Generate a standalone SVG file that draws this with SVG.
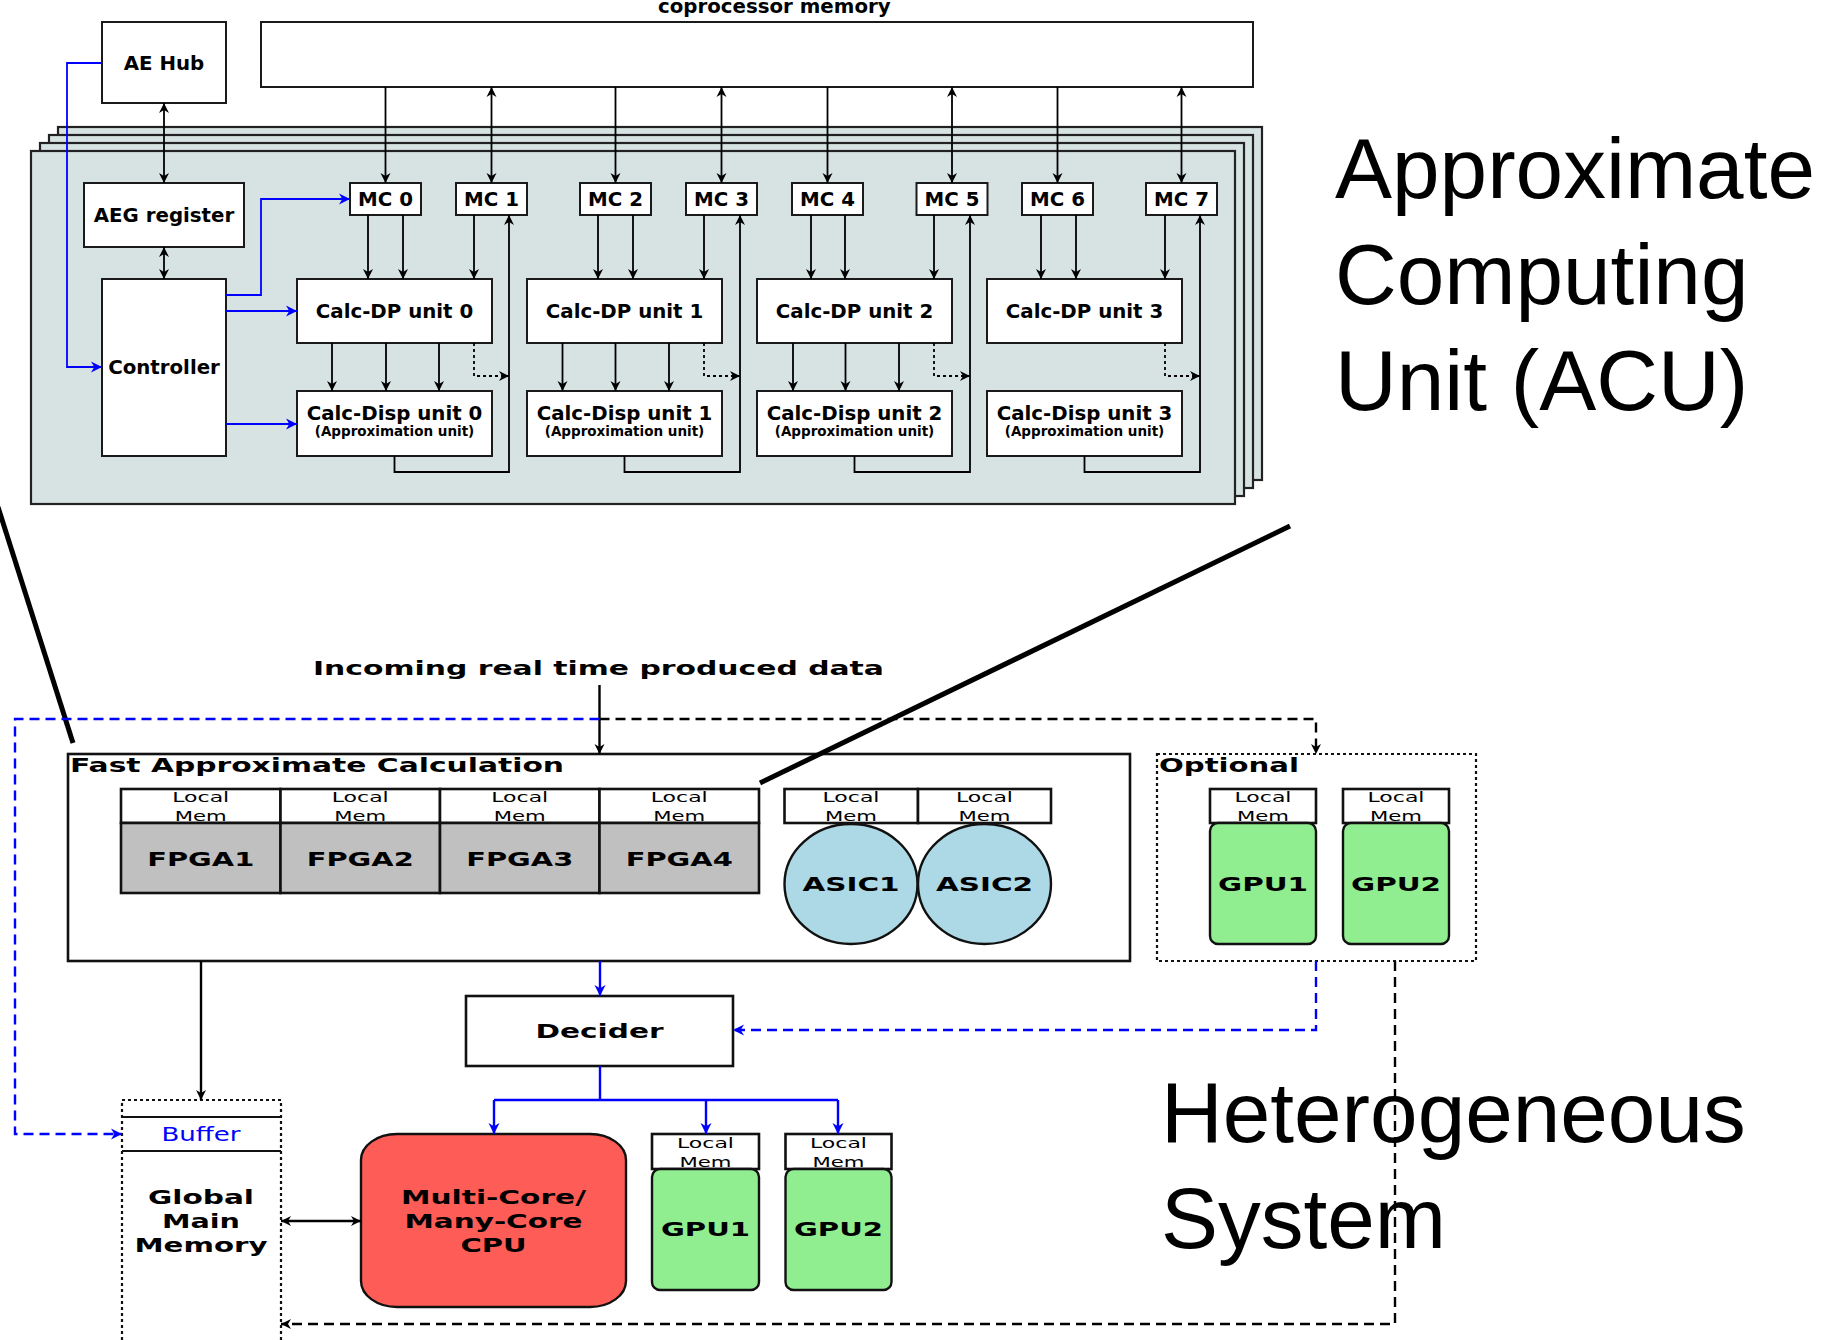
<svg xmlns="http://www.w3.org/2000/svg" width="1821" height="1340" viewBox="0 0 1821 1340">
<style>
.panel{fill:#d6e3e2;stroke:#222;stroke-width:2.2}
.box{fill:#fff;stroke:#1a1a1a;stroke-width:2}
.bx2{fill:#fff;stroke:#111;stroke-width:2.6}
.fpga{fill:#c0c0c0;stroke:#111;stroke-width:2.6}
.asic{fill:#add8e6;stroke:#111;stroke-width:2.4}
.gpu{fill:#90ee90;stroke:#111;stroke-width:2.4}
.cpu{fill:#fe5c56;stroke:#111;stroke-width:2.4}
.t{font-family:"DejaVu Sans",sans-serif;font-weight:bold;font-size:19.8px;text-anchor:middle;fill:#000}
.ts{font-family:"DejaVu Sans",sans-serif;font-weight:bold;font-size:13.5px;text-anchor:middle;fill:#000}
.tb{font-family:"DejaVu Sans",sans-serif;font-weight:bold;font-size:20px;text-anchor:middle;fill:#000}
.tn{font-family:"DejaVu Sans",sans-serif;font-size:14.5px;text-anchor:middle;fill:#000}
.big{font-family:"Liberation Sans",Arial,sans-serif;font-size:85.5px;fill:#000}
.c{fill:none;stroke:#000;stroke-width:1.8}
.cb{fill:none;stroke:#00f;stroke-width:1.8}
.c2{fill:none;stroke:#000;stroke-width:2.4}
.cb2{fill:none;stroke:#00f;stroke-width:2.4}
.dot{stroke-dasharray:3 3}
.dash{stroke-dasharray:10 6}
.thick{fill:none;stroke:#000;stroke-width:5}
</style>
<defs>
<marker id="mk" viewBox="0 0 10 10" refX="10" refY="5" markerWidth="10" markerHeight="11" markerUnits="userSpaceOnUse" orient="auto-start-reverse"><path d="M0,0 L10,5 L0,10 L3,5 z" fill="#000"/></marker>
<marker id="mb" viewBox="0 0 10 10" refX="10" refY="5" markerWidth="11" markerHeight="12" markerUnits="userSpaceOnUse" orient="auto-start-reverse"><path d="M0,0 L10,5 L0,10 L3,5 z" fill="#00f"/></marker>
</defs>

<!-- ACU panels -->
<g id="acu-panels">
<rect class="panel" x="58" y="127" width="1204" height="353"/>
<rect class="panel" x="49" y="135" width="1204" height="353"/>
<rect class="panel" x="40" y="143" width="1204" height="353"/>
<rect class="panel" x="31" y="151" width="1204" height="353"/>
</g>

<g id="coproc-mem"><rect class="box" x="261" y="22" width="992" height="65"/>
<text class="t" x="658" y="13" style="text-anchor:start">coprocessor memory</text></g>
<g id="ae-hub"><rect class="box" x="102" y="22" width="124" height="81"/><text class="t" x="164" y="70">AE Hub</text></g>
<g id="aeg-register"><rect class="box" x="84" y="183" width="160" height="64"/><text class="t" x="164" y="222">AEG register</text></g>
<g id="controller"><rect class="box" x="102" y="279" width="124" height="177"/><text class="t" x="164" y="374">Controller</text></g>

<g id="mc0"><rect class="box" x="350" y="183" width="71" height="32"/><text class="t" x="385.5" y="206">MC 0</text></g>
<g id="mc1"><rect class="box" x="456" y="183" width="71" height="32"/><text class="t" x="491.5" y="206">MC 1</text></g>
<g id="mc2"><rect class="box" x="580" y="183" width="71" height="32"/><text class="t" x="615.5" y="206">MC 2</text></g>
<g id="mc3"><rect class="box" x="686" y="183" width="71" height="32"/><text class="t" x="721.5" y="206">MC 3</text></g>
<g id="mc4"><rect class="box" x="792" y="183" width="71" height="32"/><text class="t" x="827.5" y="206">MC 4</text></g>
<g id="mc5"><rect class="box" x="916.5" y="183" width="71" height="32"/><text class="t" x="952" y="206">MC 5</text></g>
<g id="mc6"><rect class="box" x="1022" y="183" width="71" height="32"/><text class="t" x="1057.5" y="206">MC 6</text></g>
<g id="mc7"><rect class="box" x="1146" y="183" width="71" height="32"/><text class="t" x="1181.5" y="206">MC 7</text></g>

<g id="calc-dp0"><rect class="box" x="297" y="279" width="195" height="64"/><text class="t" x="394.5" y="318">Calc-DP unit 0</text></g>
<g id="calc-dp1"><rect class="box" x="527" y="279" width="195" height="64"/><text class="t" x="624.5" y="318">Calc-DP unit 1</text></g>
<g id="calc-dp2"><rect class="box" x="757" y="279" width="195" height="64"/><text class="t" x="854.5" y="318">Calc-DP unit 2</text></g>
<g id="calc-dp3"><rect class="box" x="987" y="279" width="195" height="64"/><text class="t" x="1084.5" y="318">Calc-DP unit 3</text></g>

<g id="calc-disp0"><rect class="box" x="297" y="391" width="195" height="65"/><text class="t" x="394.5" y="420">Calc-Disp unit 0</text><text class="ts" x="394.5" y="436">(Approximation unit)</text></g>
<g id="calc-disp1"><rect class="box" x="527" y="391" width="195" height="65"/><text class="t" x="624.5" y="420">Calc-Disp unit 1</text><text class="ts" x="624.5" y="436">(Approximation unit)</text></g>
<g id="calc-disp2"><rect class="box" x="757" y="391" width="195" height="65"/><text class="t" x="854.5" y="420">Calc-Disp unit 2</text><text class="ts" x="854.5" y="436">(Approximation unit)</text></g>
<g id="calc-disp3"><rect class="box" x="987" y="391" width="195" height="65"/><text class="t" x="1084.5" y="420">Calc-Disp unit 3</text><text class="ts" x="1084.5" y="436">(Approximation unit)</text></g>

<g id="label-acu">
<text class="big" x="1335" y="198">Approximate</text>
<text class="big" x="1335" y="304">Computing</text>
<text class="big" x="1335" y="410">Unit (ACU)</text>
</g>
<g id="label-hetero">
<text class="big" x="1161" y="1142">Heterogeneous</text>
<text class="big" x="1161" y="1248">System</text>
</g>

<!-- bottom nodes -->
<g id="incoming"><text class="tb" x="598.5" y="675" textLength="571" lengthAdjust="spacingAndGlyphs">Incoming real time produced data</text></g>

<g id="fac">
<rect x="68" y="754" width="1062" height="207" fill="#fff" stroke="#111" stroke-width="2.6"/>
<text class="tb" x="70" y="772" style="text-anchor:start" textLength="494" lengthAdjust="spacingAndGlyphs">Fast Approximate Calculation</text>
</g>
<g id="fpga1"><rect class="bx2" x="121" y="789" width="159.5" height="34"/><text class="tn" x="200.75" y="802" textLength="57" lengthAdjust="spacingAndGlyphs">Local</text><text class="tn" x="200.75" y="821" textLength="52" lengthAdjust="spacingAndGlyphs">Mem</text>
<rect class="fpga" x="121" y="823" width="159.5" height="70"/><text class="tb" x="200.75" y="866" textLength="107" lengthAdjust="spacingAndGlyphs">FPGA1</text></g>
<g id="fpga2"><rect class="bx2" x="280.5" y="789" width="159.5" height="34"/><text class="tn" x="360.25" y="802" textLength="57" lengthAdjust="spacingAndGlyphs">Local</text><text class="tn" x="360.25" y="821" textLength="52" lengthAdjust="spacingAndGlyphs">Mem</text>
<rect class="fpga" x="280.5" y="823" width="159.5" height="70"/><text class="tb" x="360.25" y="866" textLength="107" lengthAdjust="spacingAndGlyphs">FPGA2</text></g>
<g id="fpga3"><rect class="bx2" x="440" y="789" width="159.5" height="34"/><text class="tn" x="519.75" y="802" textLength="57" lengthAdjust="spacingAndGlyphs">Local</text><text class="tn" x="519.75" y="821" textLength="52" lengthAdjust="spacingAndGlyphs">Mem</text>
<rect class="fpga" x="440" y="823" width="159.5" height="70"/><text class="tb" x="519.75" y="866" textLength="107" lengthAdjust="spacingAndGlyphs">FPGA3</text></g>
<g id="fpga4"><rect class="bx2" x="599.5" y="789" width="159.5" height="34"/><text class="tn" x="679.25" y="802" textLength="57" lengthAdjust="spacingAndGlyphs">Local</text><text class="tn" x="679.25" y="821" textLength="52" lengthAdjust="spacingAndGlyphs">Mem</text>
<rect class="fpga" x="599.5" y="823" width="159.5" height="70"/><text class="tb" x="679.25" y="866" textLength="107" lengthAdjust="spacingAndGlyphs">FPGA4</text></g>

<g id="asic1"><rect class="bx2" x="784.5" y="789" width="133.5" height="34"/><text class="tn" x="851" y="802" textLength="57" lengthAdjust="spacingAndGlyphs">Local</text><text class="tn" x="851" y="821" textLength="52" lengthAdjust="spacingAndGlyphs">Mem</text>
<ellipse class="asic" cx="851" cy="884" rx="66.5" ry="60"/><text class="tb" x="851" y="891" textLength="97" lengthAdjust="spacingAndGlyphs">ASIC1</text></g>
<g id="asic2"><rect class="bx2" x="918" y="789" width="133" height="34"/><text class="tn" x="984.5" y="802" textLength="57" lengthAdjust="spacingAndGlyphs">Local</text><text class="tn" x="984.5" y="821" textLength="52" lengthAdjust="spacingAndGlyphs">Mem</text>
<ellipse class="asic" cx="984.5" cy="884" rx="66.5" ry="60"/><text class="tb" x="984.5" y="891" textLength="97" lengthAdjust="spacingAndGlyphs">ASIC2</text></g>

<g id="optional">
<rect x="1157" y="754" width="319" height="207" fill="none" stroke="#111" stroke-width="2.2" stroke-dasharray="3 3"/>
<text class="tb" x="1159" y="772" style="text-anchor:start" textLength="140" lengthAdjust="spacingAndGlyphs">Optional</text>
</g>
<g id="opt-gpu1"><rect class="bx2" x="1210" y="789" width="106" height="34"/><text class="tn" x="1263" y="802" textLength="57" lengthAdjust="spacingAndGlyphs">Local</text><text class="tn" x="1263" y="821" textLength="52" lengthAdjust="spacingAndGlyphs">Mem</text>
<rect class="gpu" x="1210" y="823" width="106" height="121" rx="8"/><text class="tb" x="1263" y="891" textLength="90" lengthAdjust="spacingAndGlyphs">GPU1</text></g>
<g id="opt-gpu2"><rect class="bx2" x="1343" y="789" width="106" height="34"/><text class="tn" x="1396" y="802" textLength="57" lengthAdjust="spacingAndGlyphs">Local</text><text class="tn" x="1396" y="821" textLength="52" lengthAdjust="spacingAndGlyphs">Mem</text>
<rect class="gpu" x="1343" y="823" width="106" height="121" rx="8"/><text class="tb" x="1396" y="891" textLength="90" lengthAdjust="spacingAndGlyphs">GPU2</text></g>

<g id="decider"><rect class="bx2" x="466" y="996" width="267" height="70"/><text class="tb" x="599.5" y="1038" textLength="128" lengthAdjust="spacingAndGlyphs">Decider</text></g>

<g id="global-memory">
<rect x="122" y="1100" width="159" height="270" fill="#fff" stroke="#111" stroke-width="2.2" stroke-dasharray="3 3"/>
<line x1="122" y1="1117" x2="281" y2="1117" stroke="#111" stroke-width="2.2"/>
<line x1="122" y1="1151" x2="281" y2="1151" stroke="#111" stroke-width="2.2"/>
<text x="201" y="1141" style="font-family:'DejaVu Sans',sans-serif;font-size:19.5px;text-anchor:middle;fill:#00f" textLength="79" lengthAdjust="spacingAndGlyphs">Buffer</text>
<text class="tb" x="201" y="1204" textLength="106" lengthAdjust="spacingAndGlyphs">Global</text>
<text class="tb" x="201" y="1228" textLength="78" lengthAdjust="spacingAndGlyphs">Main</text>
<text class="tb" x="201" y="1252" textLength="133" lengthAdjust="spacingAndGlyphs">Memory</text>
</g>

<g id="cpu">
<rect class="cpu" x="361" y="1134" width="265" height="173" rx="36" ry="26"/>
<text class="tb" x="493.5" y="1204" textLength="185" lengthAdjust="spacingAndGlyphs">Multi-Core/</text>
<text class="tb" x="493.5" y="1228" textLength="178" lengthAdjust="spacingAndGlyphs">Many-Core</text>
<text class="tb" x="493.5" y="1252" textLength="66" lengthAdjust="spacingAndGlyphs">CPU</text>
</g>
<g id="gpu1"><rect class="bx2" x="652" y="1134" width="107" height="35"/><text class="tn" x="705.5" y="1148" textLength="57" lengthAdjust="spacingAndGlyphs">Local</text><text class="tn" x="705.5" y="1167" textLength="52" lengthAdjust="spacingAndGlyphs">Mem</text>
<rect class="gpu" x="652" y="1169" width="107" height="121" rx="8"/><text class="tb" x="705.5" y="1236" textLength="89" lengthAdjust="spacingAndGlyphs">GPU1</text></g>
<g id="gpu2"><rect class="bx2" x="785.5" y="1134" width="106" height="35"/><text class="tn" x="838.5" y="1148" textLength="57" lengthAdjust="spacingAndGlyphs">Local</text><text class="tn" x="838.5" y="1167" textLength="52" lengthAdjust="spacingAndGlyphs">Mem</text>
<rect class="gpu" x="785.5" y="1169" width="106" height="121" rx="8"/><text class="tb" x="838.5" y="1236" textLength="89" lengthAdjust="spacingAndGlyphs">GPU2</text></g>

<!-- connectors -->
<g id="connectors">
<path class="c" d="M164,103 V183" marker-start="url(#mk)" marker-end="url(#mk)"/>
<path class="c" d="M164,247 V279" marker-start="url(#mk)" marker-end="url(#mk)"/>
<path class="c" d="M385.5,87 V183" marker-end="url(#mk)"/>
<path class="c" d="M491.5,87 V183" marker-start="url(#mk)" marker-end="url(#mk)"/>
<path class="c" d="M615.5,87 V183" marker-end="url(#mk)"/>
<path class="c" d="M721.5,87 V183" marker-start="url(#mk)" marker-end="url(#mk)"/>
<path class="c" d="M827.5,87 V183" marker-end="url(#mk)"/>
<path class="c" d="M952,87 V183" marker-start="url(#mk)" marker-end="url(#mk)"/>
<path class="c" d="M1057.5,87 V183" marker-end="url(#mk)"/>
<path class="c" d="M1181.5,87 V183" marker-start="url(#mk)" marker-end="url(#mk)"/>

<path class="c" d="M368,215 V279" marker-end="url(#mk)"/>
<path class="c" d="M403,215 V279" marker-end="url(#mk)"/>
<path class="c" d="M474,215 V279" marker-end="url(#mk)"/>
<path class="c" d="M598,215 V279" marker-end="url(#mk)"/>
<path class="c" d="M633,215 V279" marker-end="url(#mk)"/>
<path class="c" d="M704,215 V279" marker-end="url(#mk)"/>
<path class="c" d="M811,215 V279" marker-end="url(#mk)"/>
<path class="c" d="M845,215 V279" marker-end="url(#mk)"/>
<path class="c" d="M934,215 V279" marker-end="url(#mk)"/>
<path class="c" d="M1041,215 V279" marker-end="url(#mk)"/>
<path class="c" d="M1076,215 V279" marker-end="url(#mk)"/>
<path class="c" d="M1165,215 V279" marker-end="url(#mk)"/>

<path class="c" d="M332,343 V391" marker-end="url(#mk)"/>
<path class="c" d="M386,343 V391" marker-end="url(#mk)"/>
<path class="c" d="M439,343 V391" marker-end="url(#mk)"/>
<path class="c" d="M562.5,343 V391" marker-end="url(#mk)"/>
<path class="c" d="M615.5,343 V391" marker-end="url(#mk)"/>
<path class="c" d="M669,343 V391" marker-end="url(#mk)"/>
<path class="c" d="M793,343 V391" marker-end="url(#mk)"/>
<path class="c" d="M845.5,343 V391" marker-end="url(#mk)"/>
<path class="c" d="M899,343 V391" marker-end="url(#mk)"/>

<path class="c dot" d="M474,343 V376 H509" marker-end="url(#mk)"/>
<path class="c dot" d="M704,343 V376 H740" marker-end="url(#mk)"/>
<path class="c dot" d="M934,343 V376 H970" marker-end="url(#mk)"/>
<path class="c dot" d="M1165,343 V376 H1200" marker-end="url(#mk)"/>

<path class="c" d="M394.5,456 V472 H509 V215" marker-end="url(#mk)"/>
<path class="c" d="M624.5,456 V472 H740 V215" marker-end="url(#mk)"/>
<path class="c" d="M854.5,456 V472 H970 V215" marker-end="url(#mk)"/>
<path class="c" d="M1084.5,456 V472 H1200 V215" marker-end="url(#mk)"/>

<path class="cb" d="M102,63 H67 V367 H102" marker-end="url(#mb)"/>
<path class="cb" d="M226,295 H261 V199 H350" marker-end="url(#mb)"/>
<path class="cb" d="M226,311 H297" marker-end="url(#mb)"/>
<path class="cb" d="M226,424 H297" marker-end="url(#mb)"/>

<path class="thick" d="M-2,507 L73,743"/>
<path class="thick" d="M1290,526 L760,783"/>

<path class="c2" d="M599.5,685 V754" marker-end="url(#mk)"/>
<path class="cb2 dash" d="M599.5,719 H15 V1134 H122" marker-end="url(#mb)"/>
<path class="c2 dash" d="M599.5,719 H1316 V754" marker-end="url(#mk)"/>
<path class="cb2" d="M600,961 V996" marker-end="url(#mb)"/>
<path class="c2" d="M201,961 V1100" marker-end="url(#mk)"/>
<path class="cb2 dash" d="M1316,961 V1030 H733" marker-end="url(#mb)"/>
<path class="c2 dash" d="M1395,961 V1324 H281" marker-end="url(#mk)"/>
<path class="cb2" d="M600,1066 V1100 M494,1100 H838"/>
<path class="cb2" d="M494,1100 V1134" marker-end="url(#mb)"/>
<path class="cb2" d="M706,1100 V1134" marker-end="url(#mb)"/>
<path class="cb2" d="M838,1100 V1134" marker-end="url(#mb)"/>
<path class="c2" d="M281,1221 H361" marker-start="url(#mk)" marker-end="url(#mk)"/>
</g>
</svg>
